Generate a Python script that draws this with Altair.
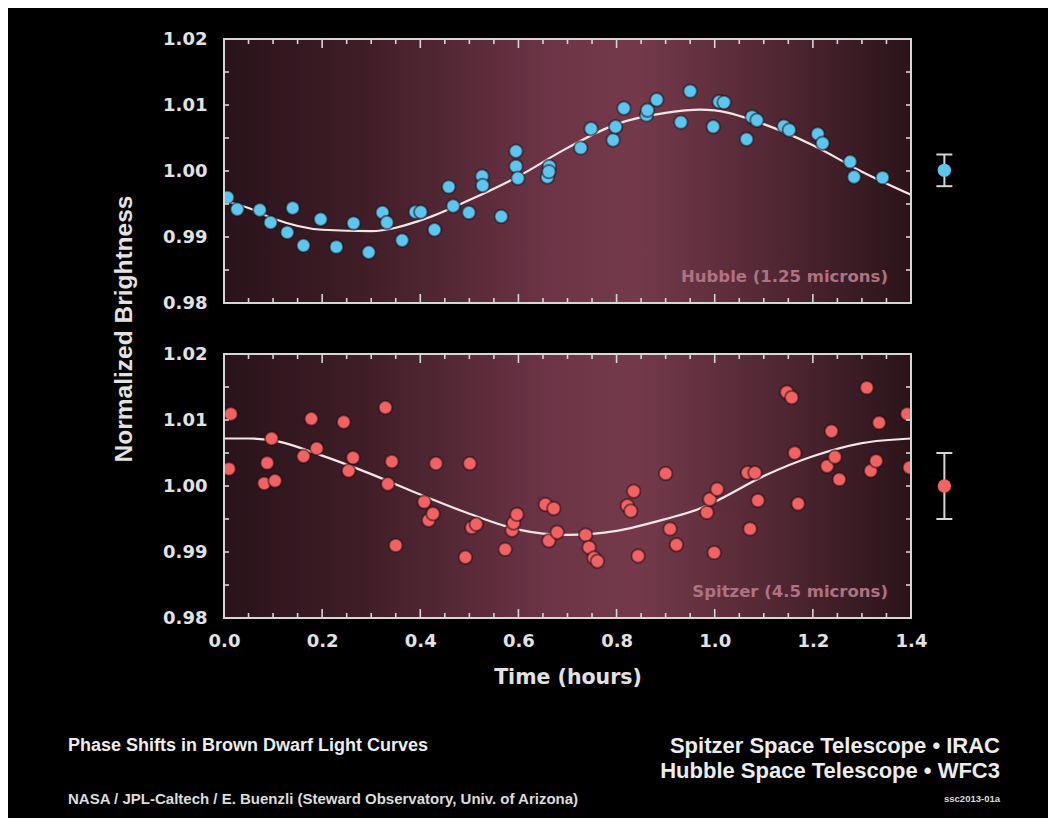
import altair as alt
import pandas as pd
import numpy as np

# ---------------- data ----------------
X_DOMAIN = [0.0, 1.4]
Y_DOMAIN = [0.98, 1.02]

top_x = [0.007, 0.027, 0.073, 0.095, 0.129, 0.140, 0.162, 0.197, 0.229, 0.264, 0.295, 0.323, 0.332,
         0.363, 0.390, 0.401, 0.429, 0.458, 0.467, 0.499, 0.526, 0.527, 0.565, 0.595, 0.595, 0.599,
         0.659, 0.663, 0.662, 0.727, 0.748, 0.793, 0.798, 0.815, 0.861, 0.863, 0.882, 0.931, 0.950,
         0.997, 1.009, 1.019, 1.065, 1.076, 1.086, 1.141, 1.152, 1.210, 1.220, 1.276, 1.284, 1.342]
top_y = [0.9960, 0.9942, 0.9941, 0.9922, 0.9907, 0.9944, 0.9887, 0.9927, 0.9885, 0.9921, 0.9877, 0.9937,
         0.9922, 0.9895, 0.9938, 0.9938, 0.9911, 0.9976, 0.9947, 0.9937, 0.9992, 0.9978, 0.9931, 1.0030,
         1.0007, 0.9989, 0.9991, 1.0007, 0.9999, 1.0035, 1.0064, 1.0047, 1.0067, 1.0095, 1.0085, 1.0092,
         1.0108, 1.0074, 1.0121, 1.0067, 1.0105, 1.0104, 1.0048, 1.0082, 1.0077, 1.0068, 1.0062, 1.0056,
         1.0042, 1.0014, 0.9991, 0.9990]

bot_x = [0.014, 0.010, 0.082, 0.104, 0.088, 0.097, 0.162, 0.178, 0.189, 0.244, 0.254, 0.263, 0.329,
         0.334, 0.342, 0.350, 0.408, 0.417, 0.426, 0.432, 0.492, 0.501, 0.505, 0.514, 0.573, 0.587,
         0.590, 0.597, 0.655, 0.672, 0.662, 0.679, 0.737, 0.744, 0.754, 0.761, 0.835, 0.822, 0.829,
         0.844, 0.900, 0.909, 0.922, 0.984, 0.990, 1.005, 0.999, 1.067, 1.082, 1.072, 1.088, 1.147,
         1.157, 1.163, 1.170, 1.238, 1.229, 1.245, 1.254, 1.310, 1.335, 1.318, 1.329, 1.392, 1.397]
bot_y = [1.0109, 1.0026, 1.0004, 1.0008, 1.0035, 1.0072, 1.0045, 1.0102, 1.0057, 1.0097, 1.0023, 1.0043,
         1.0119, 1.0003, 1.0037, 0.9910, 0.9976, 0.9948, 0.9958, 1.0034, 0.9892, 1.0034, 0.9937, 0.9942,
         0.9904, 0.9933, 0.9944, 0.9957, 0.9972, 0.9966, 0.9917, 0.9930, 0.9926, 0.9907, 0.9891, 0.9886,
         0.9992, 0.9970, 0.9962, 0.9894, 1.0019, 0.9935, 0.9911, 0.9960, 0.9980, 0.9995, 0.9899, 1.0020,
         1.0020, 0.9935, 0.9978, 1.0142, 1.0134, 1.0050, 0.9973, 1.0083, 1.0030, 1.0044, 1.0010, 1.0149,
         1.0096, 1.0023, 1.0038, 1.0109, 1.0028]

curve_x = [0.0, 0.05, 0.1, 0.2, 0.3, 0.4, 0.5, 0.6, 0.7, 0.8, 0.9, 0.97, 1.0, 1.1, 1.2, 1.3, 1.4]
top_curve = [0.9955, 0.9944, 0.9928, 0.9911, 0.9909, 0.9925, 0.9956, 0.9992, 1.0035, 1.0071, 1.0088,
             1.0093, 1.0092, 1.0071, 1.0039, 0.9999, 0.9964]
bot_curve = [1.0072, 1.0072, 1.0069, 1.0046, 1.0018, 0.9987, 0.9958, 0.9934, 0.9926, 0.9932, 0.9950,
             0.9966, 0.9976, 1.0015, 1.0045, 1.0065, 1.0072]

err_x = 1.468
top_err = [1.0001, 0.9977, 1.0025]   # value, low, high
bot_err = [1.0000, 0.9950, 1.0050]

x_tick_labels = [0.0, 0.2, 0.4, 0.6, 0.8, 1.0, 1.2, 1.4]
x_minor = [round(v, 2) for v in np.arange(0.05, 1.4, 0.05) if abs(v / 0.2 - round(v / 0.2)) > 1e-6]
y_tick_labels = [0.98, 0.99, 1.00, 1.01, 1.02]
y_minor = [0.985, 0.99, 0.995, 1.0, 1.005, 1.01, 1.015]

top_label = "Hubble (1.25 microns)"
bot_label = "Spitzer (4.5 microns)"
label_pos = [1.353, 0.9840]

footer_texts = ["Phase Shifts in Brown Dwarf Light Curves", "Spitzer Space Telescope \u2022 IRAC",
                "Hubble Space Telescope \u2022 WFC3",
                "NASA / JPL-Caltech / E. Buenzli (Steward Observatory, Univ. of Arizona)", "ssc2013-01a"]

# ---------------- styles ----------------
W, H = 687, 579
PANEL_H = 264
GAP = 51
FG = "#e2e2e2"
FRAME = "#d6d6d6"
AX_FONT = "DejaVu Sans"
TXT_FONT = "Liberation Sans"

grad = alt.LinearGradient(
    gradient="linear", x1=0, x2=1, y1=0, y2=0,
    stops=[alt.GradientStop(color="#29131a", offset=0.0),
           alt.GradientStop(color="#3f1d27", offset=0.2),
           alt.GradientStop(color="#6c3446", offset=0.47),
           alt.GradientStop(color="#743a4b", offset=0.6),
           alt.GradientStop(color="#522734", offset=0.8),
           alt.GradientStop(color="#2a141a", offset=1.0)])

xs = alt.Scale(domain=X_DOMAIN, nice=False, zero=False)
x_axis = alt.Axis(values=x_tick_labels, format=".1f", title="Time (hours)", domain=False, ticks=False,
                  grid=False, labelFlush=False, labelFont=AX_FONT, labelFontWeight="bold",
                  labelFontSize=18, labelColor=FG, labelPadding=14, titleFont=AX_FONT,
                  titleFontWeight="bold", titleFontSize=20.5, titleColor=FG, titleBaseline="middle",
                  titleY=59)


def X(field):
    return alt.X(field, type="quantitative", scale=xs, axis=x_axis)


def make_panel(px, py, cx, cy, err, color, label, rng, with_title):
    ys = alt.Scale(domain=Y_DOMAIN, range=rng, nice=False, zero=False)
    if with_title:
        yax = alt.Axis(values=y_tick_labels, format=".2f", orient="left", domain=False, ticks=False,
                       grid=False, labelFlush=False, labelFont=AX_FONT, labelFontWeight="bold",
                       labelFontSize=18, labelColor=FG, labelPadding=17, title="Normalized Brightness",
                       titleFont="Liberation Sans", titleFontWeight="bold", titleFontSize=24.5,
                       titleColor=FG, titleX=-100, titleY=H / 2, titleAngle=-90,
                       titleBaseline="middle", titleAlign="center")
    else:
        yax = alt.Axis(values=y_tick_labels, format=".2f", orient="left", domain=False, ticks=False,
                       grid=False, labelFlush=False, labelFont=AX_FONT, labelFontWeight="bold",
                       labelFontSize=18, labelColor=FG, labelPadding=17, title=None)

    def Y(field):
        return alt.Y(field, type="quantitative", scale=ys, axis=yax)

    box = pd.DataFrame({"x0": [X_DOMAIN[0]], "x1": [X_DOMAIN[1]], "y0": [Y_DOMAIN[0]], "y1": [Y_DOMAIN[1]]})
    bg = alt.Chart(box).mark_rect(fill=grad).encode(x=X("x0"), x2="x1", y=Y("y0"), y2="y1")
    frame = alt.Chart(box).mark_rect(fill="transparent", stroke=FRAME, strokeWidth=2).encode(
        x=X("x0"), x2="x1", y=Y("y0"), y2="y1")

    cdf = pd.DataFrame({"x": cx, "y": cy})
    line = alt.Chart(cdf).mark_line(interpolate="monotone", color="#f3e6e6", strokeWidth=2.2,
                                    clip=True).encode(x=X("x"), y=Y("y"))
    pdf = pd.DataFrame({"x": px, "y": py})
    pts = alt.Chart(pdf).mark_circle(size=180, color=color, opacity=1, stroke="#1a080d",
                                     strokeWidth=2, strokeOpacity=0.5, clip=True).encode(
        x=X("x"), y=Y("y"))

    xmaj = pd.DataFrame({"x": x_tick_labels})
    xmin = pd.DataFrame({"x": x_minor})
    ymin = pd.DataFrame({"y": y_minor})
    ticks = []
    for d, size in ((xmaj, 9), (xmin, 5)):
        ticks.append(alt.Chart(d).mark_tick(orient="vertical", size=size, thickness=1.6, color=FRAME,
                                            opacity=1, yOffset=-size / 2).encode(
            x=X("x"), y=alt.Y(datum=Y_DOMAIN[0], scale=ys, axis=yax)))
        ticks.append(alt.Chart(d).mark_tick(orient="vertical", size=size, thickness=1.6, color=FRAME,
                                            opacity=1, yOffset=size / 2).encode(
            x=X("x"), y=alt.Y(datum=Y_DOMAIN[1], scale=ys, axis=yax)))
    ticks.append(alt.Chart(ymin).mark_tick(orient="horizontal", size=5, thickness=1.6, color=FRAME,
                                           opacity=1, xOffset=2.5).encode(
        y=Y("y"), x=alt.X(datum=X_DOMAIN[0], scale=xs, axis=x_axis)))
    ticks.append(alt.Chart(ymin).mark_tick(orient="horizontal", size=5, thickness=1.6, color=FRAME,
                                           opacity=1, xOffset=-2.5).encode(
        y=Y("y"), x=alt.X(datum=X_DOMAIN[1], scale=xs, axis=x_axis)))

    edf = pd.DataFrame({"x": [err_x], "y": [err[0]], "lo": [err[1]], "hi": [err[2]]})
    erule = alt.Chart(edf).mark_rule(color=FRAME, strokeWidth=2).encode(x=X("x"), y=Y("lo"), y2="hi")
    ecap_lo = alt.Chart(edf).mark_tick(orient="horizontal", size=16, thickness=2, color=FRAME,
                                       opacity=1).encode(x=X("x"), y=Y("lo"))
    ecap_hi = alt.Chart(edf).mark_tick(orient="horizontal", size=16, thickness=2, color=FRAME,
                                       opacity=1).encode(x=X("x"), y=Y("hi"))
    epoint = alt.Chart(edf).mark_circle(size=180, color=color, opacity=1).encode(x=X("x"), y=Y("y"))

    ldf = pd.DataFrame({"x": [label_pos[0]], "y": [label_pos[1]], "t": [label]})
    lab = alt.Chart(ldf).mark_text(align="right", baseline="middle", font=AX_FONT, fontWeight="bold",
                                   fontSize=16.5, color="#b07282").encode(x=X("x"), y=Y("y"), text="t")

    return alt.layer(bg, lab, line, pts, *ticks, frame, erule, ecap_lo, ecap_hi, epoint)


top = make_panel(top_x, top_y, curve_x, top_curve, top_err, "#5cc6ee", top_label, [PANEL_H, 0], True)
bottom = make_panel(bot_x, bot_y, curve_x, bot_curve, bot_err, "#f26262", bot_label,
                    [H, PANEL_H + GAP], False)

footer = pd.DataFrame({"t": footer_texts})


def ftext(i, align, x, y, size, bold, color="#ececec", font=TXT_FONT):
    return alt.Chart(footer.iloc[[i]]).mark_text(
        align=align, baseline="middle", font=font, fontSize=size,
        fontWeight="bold" if bold else "normal", color=color).encode(
        x=alt.value(x), y=alt.value(y), text="t")


f1 = ftext(0, "left", -156, 707, 18, True)
f2 = ftext(1, "right", 776, 707, 22, True)
f3 = ftext(2, "right", 776, 732, 22, True)
f4 = ftext(3, "left", -156, 760, 15, True, "#dcdcdc")
f5 = ftext(4, "right", 776, 760, 9.5, True, "#dcdcdc")

chart = alt.layer(top, bottom, f1, f2, f3, f4, f5).resolve_scale(y="independent").properties(
    width=W, height=H,
    autosize=alt.AutoSizeParams(type="none"),
    padding={"left": 216, "top": 31, "right": 137, "bottom": 200},
    background="black",
).configure_view(strokeWidth=0)

chart.save("out.html", embed_options={"renderer": "svg", "actions": False})
